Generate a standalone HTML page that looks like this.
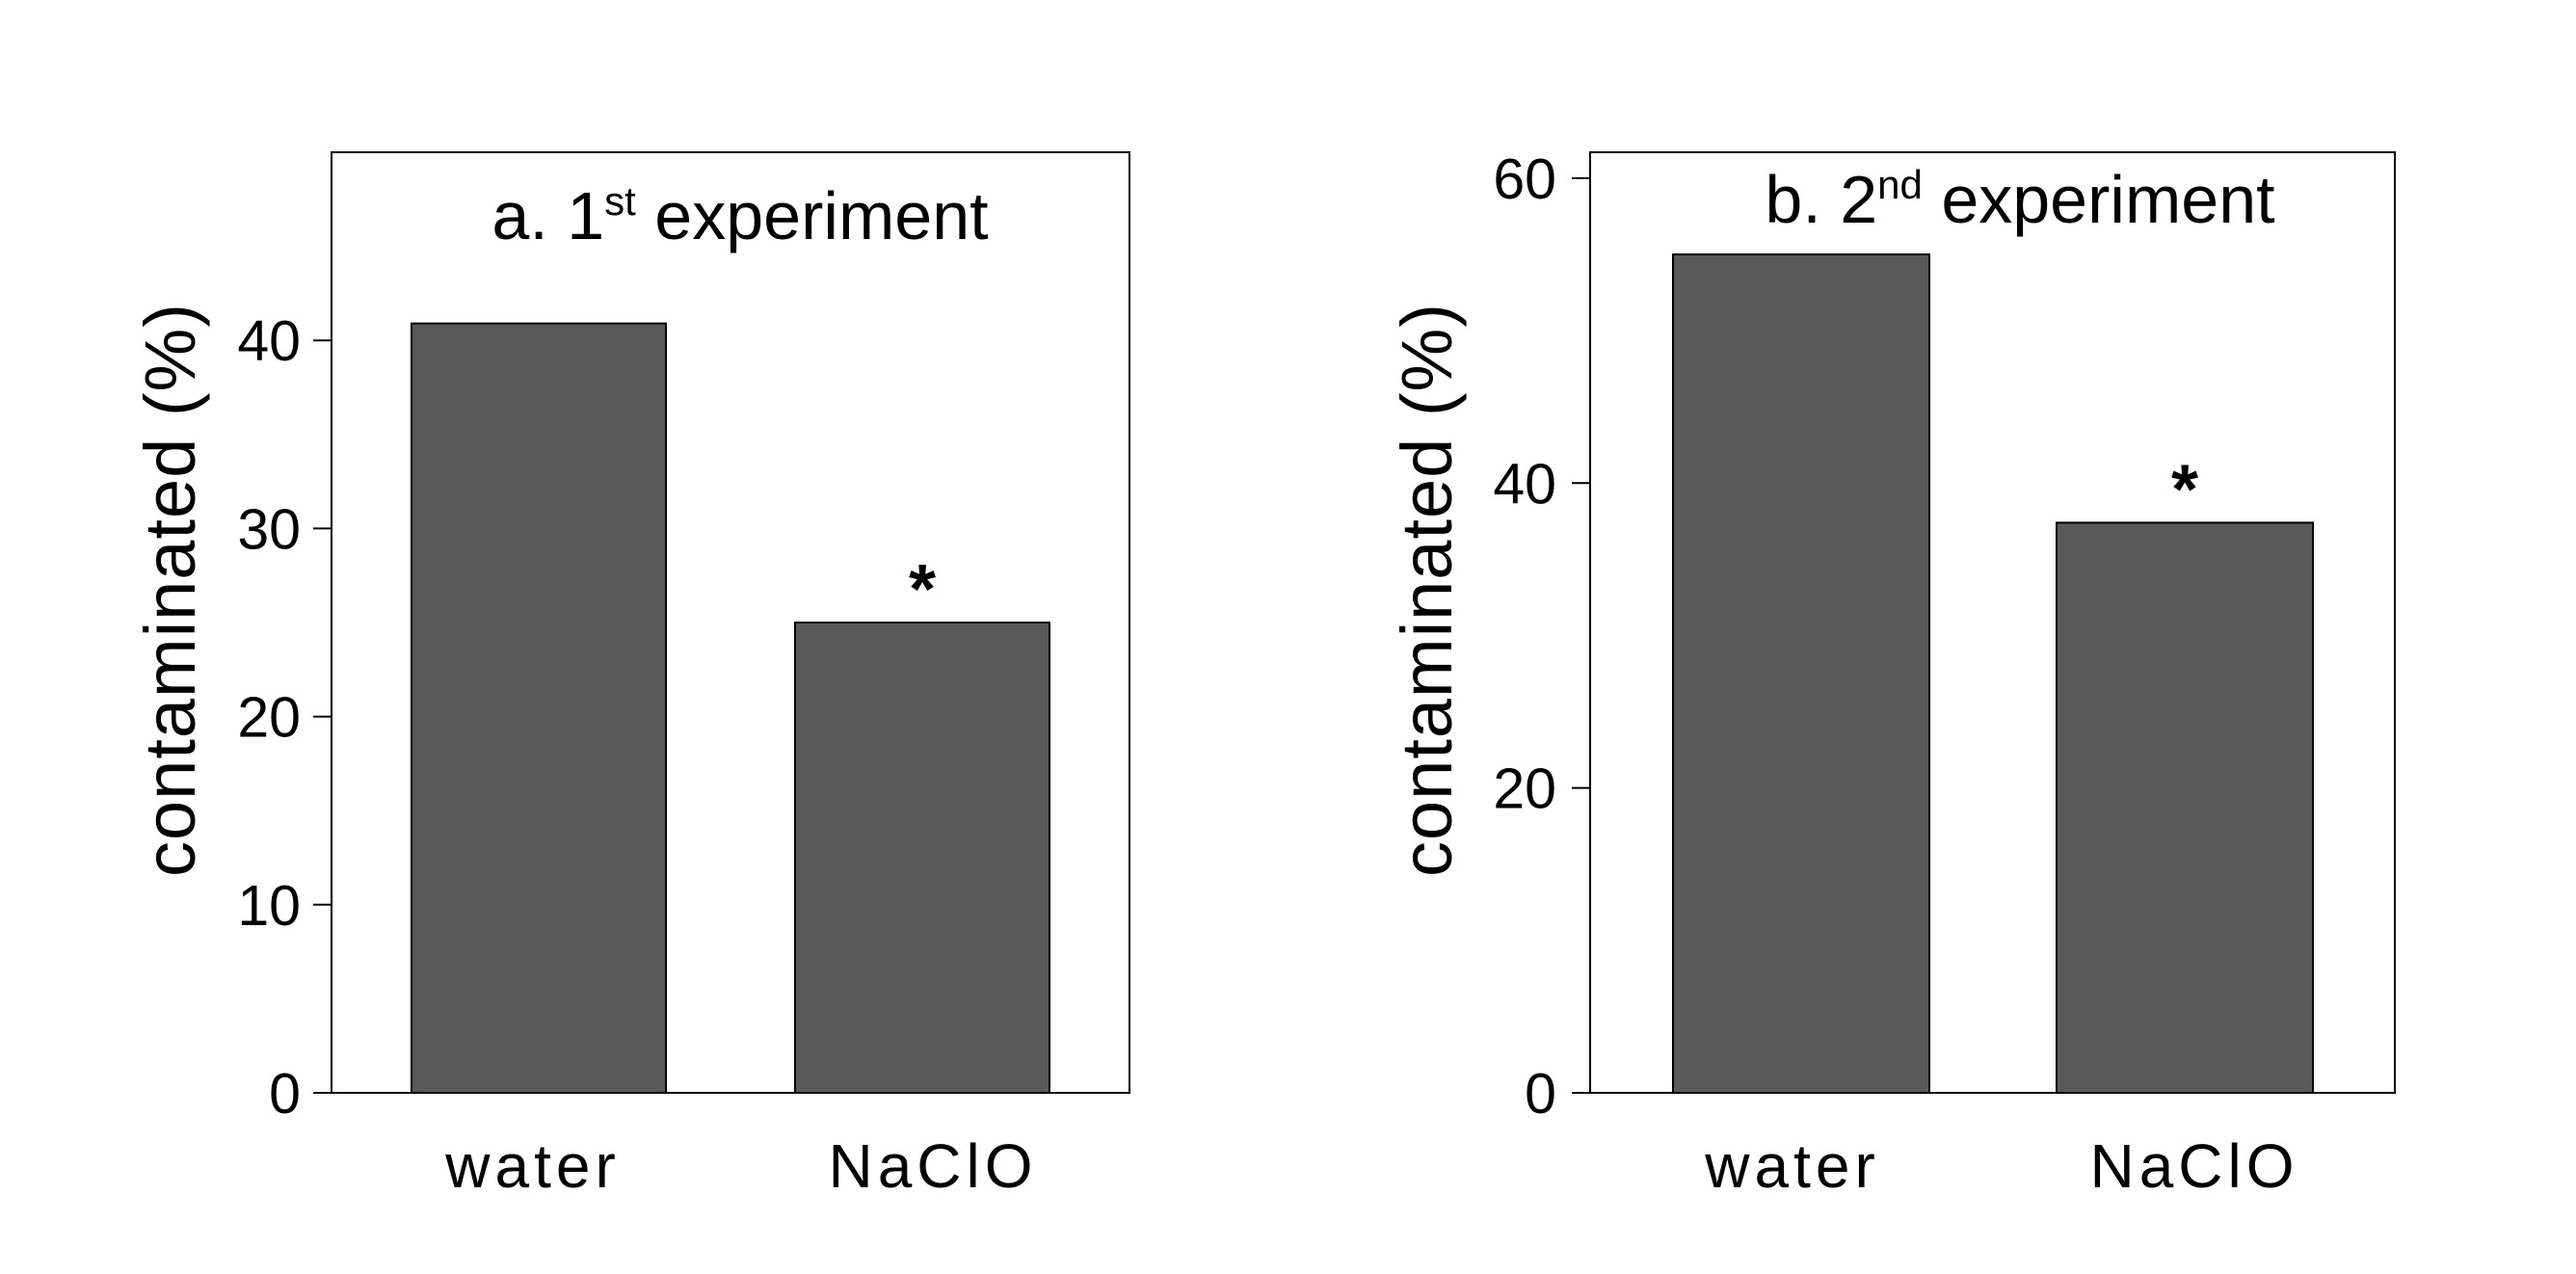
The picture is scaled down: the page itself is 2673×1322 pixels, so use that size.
<!DOCTYPE html>
<html><head><meta charset="utf-8"><style>
html,body{margin:0;padding:0;background:#fff;}
svg{display:block;font-family:"Liberation Sans",Arial,sans-serif;}
</style></head><body>
<svg id="chart" width="2673" height="1322" viewBox="0 0 2673 1322"></svg>
<script>
const categories = ["water", "NaClO"];
const valuesA = [40.9, 25.0];
const valuesB = [55.0, 37.4];
const ticksA = [0, 10, 20, 30, 40];
const ticksB = [0, 20, 40, 60];
const sigA = [false, true];
const sigB = [false, true];

const NS = "http://www.w3.org/2000/svg";
const svg = document.getElementById("chart");
function mk(tag, attrs, parent){
  const e = document.createElementNS(NS, tag);
  for (const k in attrs) e.setAttribute(k, attrs[k]);
  (parent||svg).appendChild(e);
  return e;
}
function panel(id, cfg, values, ticks, sig){
  const g = mk("g", {});
  
  
  const y = v => cfg.bottom - v / cfg.ymax * (cfg.bottom - cfg.top);
  const frame = mk("rect", {x:cfg.left, y:cfg.top, width:cfg.right-cfg.left, height:cfg.bottom-cfg.top, fill:"none", stroke:"#000", "stroke-width":2}, g);
  
  
  const bw = cfg.barW;
  values.forEach((v, i) => {
    const cx = cfg.barCenters[i];
    const r = mk("rect", {x:cx-bw/2, y:y(v), width:bw, height:cfg.bottom-y(v), fill:"#595959", stroke:"#000", "stroke-width":2}, g);
    
    
    const t = mk("text", {x:cfg.labelCenters[i], y:cfg.bottom+98, "text-anchor":"middle", "font-size":64, "letter-spacing":5}, g);
    t.textContent = categories[i];
    
    
    if (sig[i]) {
      const s = mk("text", {x:cx, y:y(v)-10, "text-anchor":"middle", "font-size":72, "font-weight":"bold"}, g);
      s.textContent = "*";
      
      
    }
  });
  ticks.forEach(tv => {
    const ty = y(tv);
    const tk = mk("line", {x1:cfg.left-19, x2:cfg.left, y1:ty, y2:ty, stroke:"#000", "stroke-width":2}, g);
    
    
    const tl = mk("text", {x:cfg.tickLabRight, y:ty+21, "text-anchor":"end", "font-size":59}, g);
    tl.textContent = tv;
    
    
  });
  const yl = mk("text", {transform:`translate(${cfg.ylabX},${cfg.ylabY}) rotate(-90)`, "text-anchor":"middle", "font-size":74, "letter-spacing":1}, g);
  yl.textContent = "contaminated (%)";
  
  
  const ti = mk("text", {x:cfg.titleX, y:cfg.titleY, "text-anchor":"middle", "font-size":70}, g);
  ti.innerHTML = cfg.titleA + '<tspan dy="-25" font-size="42">' + cfg.sup + '</tspan><tspan dy="25"> experiment</tspan>';
  
  
}
panel("panel-a", {left:344, right:1172, top:158, bottom:1134, ymax:50, barW:264, barCenters:[559, 957], labelCenters:[553, 968],
  tickLabRight:312, ylabX:202, ylabY:612, titleX:768, titleY:248, titleA:"a. 1", sup:"st"}, valuesA, ticksA, sigA);
panel("panel-b", {left:1650, right:2485, top:158, bottom:1134, ymax:61.7, barW:266, barCenters:[1869, 2267], labelCenters:[1860, 2277],
  tickLabRight:1615, ylabX:1506, ylabY:612, titleX:2096, titleY:231, titleA:"b. 2", sup:"nd"}, valuesB, ticksB, sigB);
</script>
</body></html>
